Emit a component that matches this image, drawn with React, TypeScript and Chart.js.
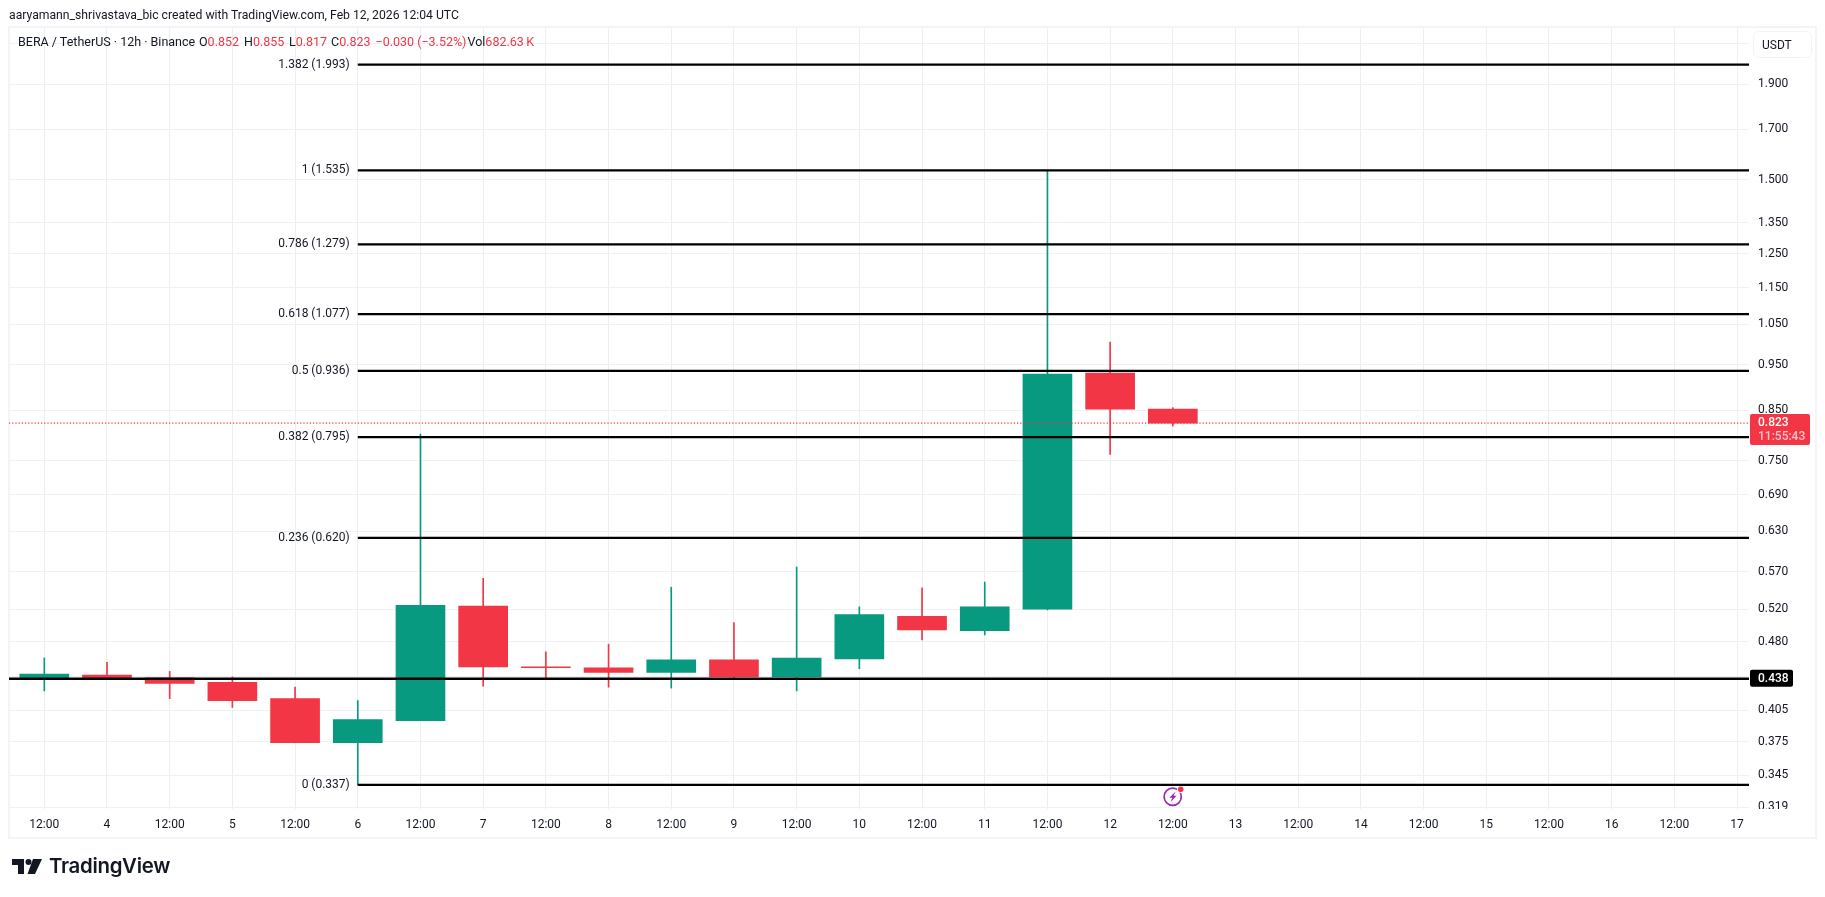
import { useEffect, useRef } from 'react'
import { Chart, registerables } from 'chart.js'
Chart.register(...registerables)

const FONT = 'Roboto, sans-serif'
const INK = '#131722'
const UP = '#089981'
const DOWN = '#F23645'

// 12h candles, Feb 3 12:00 onwards
const opens = [0.438, 0.442, 0.439, 0.434, 0.417, 0.374, 0.395, 0.524, 0.451, 0.450, 0.445, 0.459, 0.440, 0.460, 0.511, 0.493, 0.520, 0.931, 0.852]
const highs = [0.461, 0.456, 0.446, 0.440, 0.429, 0.415, 0.801, 0.561, 0.468, 0.477, 0.549, 0.503, 0.577, 0.523, 0.548, 0.556, 1.535, 1.005, 0.855]
const lows = [0.425, 0.438, 0.417, 0.408, 0.374, 0.337, 0.395, 0.430, 0.439, 0.429, 0.428, 0.439, 0.425, 0.449, 0.482, 0.488, 0.519, 0.762, 0.817]
const closes = [0.443, 0.438, 0.433, 0.415, 0.374, 0.396, 0.525, 0.451, 0.450, 0.445, 0.459, 0.440, 0.461, 0.513, 0.494, 0.523, 0.929, 0.852, 0.823]

const timeLabels = ['12:00', '4', '12:00', '5', '12:00', '6', '12:00', '7', '12:00', '8', '12:00', '9', '12:00', '10', '12:00', '11', '12:00', '12', '12:00', '13', '12:00', '14', '12:00', '15', '12:00', '16', '12:00', '17']
const priceTicks = [2.1, 1.9, 1.7, 1.5, 1.35, 1.25, 1.15, 1.05, 0.95, 0.85, 0.75, 0.69, 0.63, 0.57, 0.52, 0.48, 0.44, 0.405, 0.375, 0.345, 0.319]
const hiddenPriceTicks = [2.1, 0.44]

const fibLevels = ['0', '0.236', '0.382', '0.5', '0.618', '0.786', '1', '1.382']
const fibPrices = [0.337, 0.62, 0.795, 0.936, 1.077, 1.279, 1.535, 1.993]
const fibStart = 5
const supportLevel = 0.438
const lastPrice = 0.823
const countdown = '11:55:43'

const xMin = -0.563
const xMax = 27.19
const yMin = 0.3176
const yMax = 2.1816

const overlayPlugin = {
    id: 'overlay',
    afterDraw(chart: any) {
        const { ctx, scales } = chart
        const x = scales.x
        const y = scales.y
        ctx.save()

        // fib labels
        ctx.font = `12px ${FONT}`
        ctx.fillStyle = INK
        ctx.textAlign = 'right'
        ctx.textBaseline = 'middle'
        fibPrices.forEach((p, i) => {
            ctx.fillText(`${fibLevels[i]} (${p.toFixed(3)})`, x.getPixelForValue(fibStart) - 8, y.getPixelForValue(p))
        })

        // the lowest price label is cut by the time axis
        ctx.fillStyle = 'white'
        ctx.fillRect(x.right + 1, y.bottom, 60, 8)

        // price tags
        const px = x.right + 1
        ctx.textAlign = 'left'
        const lastY = y.getPixelForValue(lastPrice)
        ctx.fillStyle = DOWN
        ctx.beginPath()
        ctx.roundRect(px, lastY - 9, 60, 31, 2)
        ctx.fill()
        ctx.fillStyle = 'white'
        ctx.font = `500 12px ${FONT}`
        ctx.fillText(lastPrice.toFixed(3), px + 8, lastY)
        ctx.fillStyle = 'rgba(255,255,255,0.7)'
        ctx.fillText(countdown, px + 8, lastY + 14)

        const supportY = y.getPixelForValue(supportLevel)
        ctx.fillStyle = '#000000'
        ctx.beginPath()
        ctx.roundRect(px, supportY - 9, 43, 17, 2)
        ctx.fill()
        ctx.fillStyle = 'white'
        ctx.fillText(supportLevel.toFixed(3), px + 8, supportY)

        ctx.restore()
    },
}

function CandleChart() {
    const canvasRef = useRef<HTMLCanvasElement>(null)

    useEffect(() => {
        document.body.style.margin = '0'
        document.body.style.background = 'white'
        if (!canvasRef.current) return
        const colors = closes.map((c, i) => (c >= opens[i] ? UP : DOWN))
        const levelLine = (points: { x: number; y: number }[], color: string, width: number, dash: number[], order: number) => ({
            type: 'line' as const,
            data: points,
            borderColor: color,
            borderWidth: width,
            borderDash: dash,
            pointRadius: 0,
            order,
        })
        const chart = new Chart(canvasRef.current, {
            type: 'bar',
            data: {
                datasets: [
                    {
                        data: highs.map((h, i) => ({ x: i, y: [lows[i], h] })),
                        backgroundColor: colors,
                        barThickness: 1,
                        grouped: false,
                        order: 5,
                    },
                    {
                        data: opens.map((o, i) => ({ x: i, y: [o, closes[i]] })),
                        backgroundColor: colors,
                        barThickness: 49,
                        grouped: false,
                        order: 4,
                    },
                    levelLine([{ x: xMin, y: lastPrice }, { x: xMax, y: lastPrice }], DOWN, 1.3, [1.2, 2], 3),
                    levelLine([{ x: xMin, y: supportLevel }, { x: xMax, y: supportLevel }], '#000000', 2.3, [], 2),
                    ...fibPrices.map(p => levelLine([{ x: fibStart, y: p }, { x: xMax, y: p }], '#000000', 2.3, [], 1)),
                ] as any,
            },
            options: {
                animation: false,
                responsive: false,
                layout: { padding: { left: 9, top: 28, right: 0, bottom: 0 } },
                plugins: { legend: { display: false }, tooltip: { enabled: false } },
                scales: {
                    x: {
                        type: 'linear',
                        bounds: 'data',
                        min: xMin,
                        max: xMax,
                        offset: false,
                        afterFit: (s: any) => { s.height = 88 },
                        afterBuildTicks: (s: any) => { s.ticks = timeLabels.map((_, i) => ({ value: i })) },
                        grid: { color: '#eceef1', offset: false, drawTicks: false },
                        border: { display: false },
                        ticks: {
                            autoSkip: false,
                            maxRotation: 0,
                            padding: 9,
                            color: INK,
                            font: { family: FONT, size: 12 },
                            callback: (v: any) => timeLabels[v],
                        },
                    },
                    y: {
                        type: 'logarithmic',
                        position: 'right',
                        bounds: 'data',
                        min: yMin,
                        max: yMax,
                        afterFit: (s: any) => { s.width = 76 },
                        afterBuildTicks: (s: any) => { s.ticks = priceTicks.map(v => ({ value: v })) },
                        grid: { color: '#f0f1f3', drawTicks: false },
                        border: { display: false },
                        ticks: {
                            autoSkip: false,
                            padding: 9,
                            color: INK,
                            font: { family: FONT, size: 12 },
                            callback: (v: any) => (hiddenPriceTicks.includes(v) ? '' : Number(v).toFixed(3)),
                        },
                    },
                },
            } as any,
            plugins: [overlayPlugin],
        })
        return () => chart.destroy()
    }, [])

    return <canvas ref={canvasRef} width={1825} height={897} style={{ position: 'absolute', left: 0, top: 0, display: 'block' }} />
}

const Red = ({ children }: { children: React.ReactNode }) => <span style={{ color: DOWN }}>{children}</span>

export default function App() {
    return (
        <div style={{ position: 'relative', width: 1825, height: 897, overflow: 'hidden', background: 'white', fontFamily: FONT, color: INK }}>
            <div style={{ position: 'absolute', left: 8, top: 26, width: 1805, height: 809, border: '2px solid #f3f4f6' }} />
            <CandleChart />

            <div style={{ position: 'absolute', left: 9, top: 7, fontSize: 12.2, lineHeight: '16px', whiteSpace: 'nowrap' }}>
                aaryamann_shrivastava_bic created with TradingView.com, Feb 12, 2026 12:04 UTC
            </div>

            <div style={{ position: 'absolute', left: 18, top: 34, fontSize: 12.5, lineHeight: '16px', whiteSpace: 'pre', display: 'flex' }}>
                <span style={{ width: 181 }}>BERA / TetherUS · 12h · Binance</span>
                <span style={{ width: 45 }}>O<Red>0.852</Red></span>
                <span style={{ width: 45 }}>H<Red>0.855</Red></span>
                <span style={{ width: 42 }}>L<Red>0.817</Red></span>
                <span style={{ width: 44.5 }}>C<Red>0.823</Red></span>
                <span style={{ width: 92 }}><Red>−0.030 (−3.52%)</Red></span>
                <span>Vol<Red>682.63{'\u2009'}K</Red></span>
            </div>

            <div style={{ position: 'absolute', left: 1753, top: 31, width: 57, height: 25, border: '1px solid #f0f3fa', borderRadius: 6, fontSize: 12, lineHeight: '26px', textIndent: 8 }}>
                USDT
            </div>

            <svg style={{ position: 'absolute', left: 1163, top: 786 }} width={22} height={22} viewBox="0 0 22 22">
                <circle cx="9.7" cy="10.7" r="8.6" fill="none" stroke="#9c27b0" strokeWidth="1.7" />
                <path d="M12.7 5.5 L6.3 11.8 H9.4 L7.6 16 L13.6 9.8 H10.6 Z" fill="#9c27b0" />
                <circle cx="17.7" cy="3.3" r="3.8" fill="white" />
                <circle cx="17.7" cy="3.3" r="2.8" fill={DOWN} />
            </svg>

            <svg style={{ position: 'absolute', left: 12, top: 859 }} width={30} height={15} viewBox="0 0 30 15">
                <path d="M0 0 H12 V15 H6 V6 H0 Z M21 0 H30 L23 15 H15.5 Z" fill={INK} />
                <circle cx="16.5" cy="3" r="3" fill={INK} />
            </svg>
            <div style={{ position: 'absolute', left: 49, top: 853, fontFamily: 'Inter, sans-serif', fontWeight: 600, fontSize: 20.4, lineHeight: '26px', letterSpacing: -0.3, whiteSpace: 'nowrap' }}>
                TradingView
            </div>
        </div>
    )
}
